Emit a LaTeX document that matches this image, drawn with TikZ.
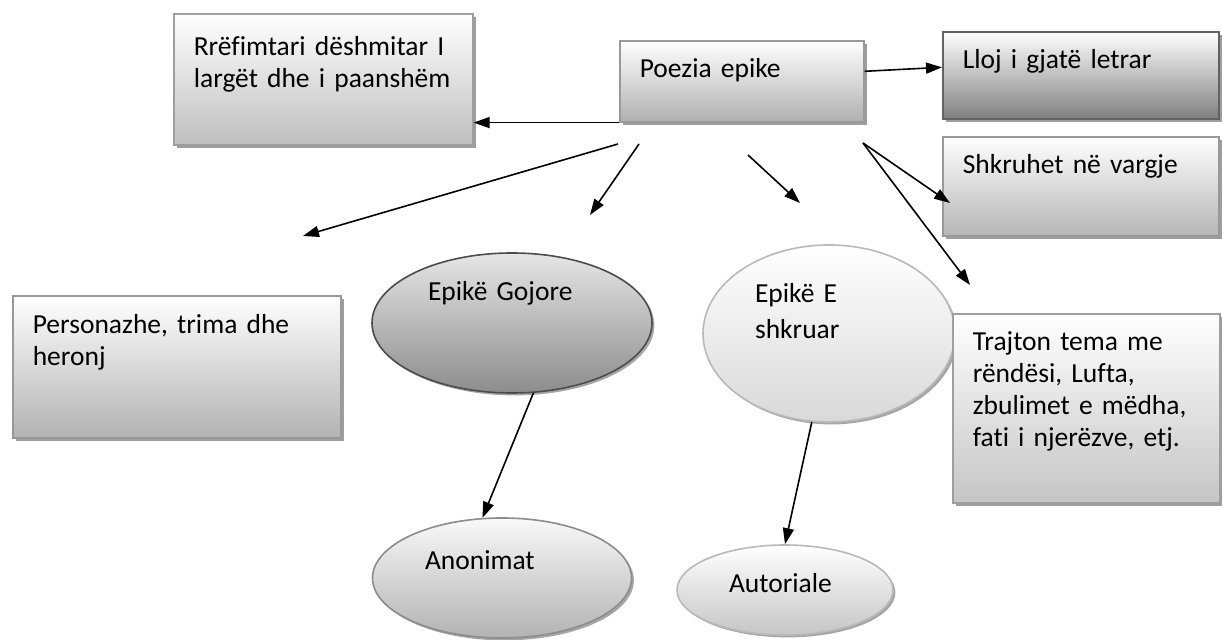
\documentclass[tikz,border=0pt]{standalone}
\usepackage{fontspec}
\setmainfont{Carlito}[WordSpace=0.75, Ligatures=NoCommon]
\usetikzlibrary{shapes.geometric, arrows.meta, shadows}

\begin{document}
\begin{tikzpicture}[x=0.5pt, y=-0.5pt, font=\fontsize{13.75pt}{16pt}\selectfont,
    box/.style={draw, rectangle, line width=0.8pt, anchor=north west, inner xsep=10pt, inner ysep=0pt,
        align=left, text height=18.5pt, top color=white,
        drop shadow={shadow xshift=1.6pt, shadow yshift=-1.6pt, fill=black!38, opacity=1}},
    oval/.style={draw, ellipse, line width=0.8pt, inner sep=0pt, align=left, text height=10pt,
        drop shadow={shadow xshift=1.2pt, shadow yshift=-1.2pt, fill=black!35, opacity=1}},
    link/.style={-{Triangle[length=8pt, width=5.5pt]}, line width=0.8pt}]
    \useasboundingbox (0,0) rectangle (1222,640);

    % kutite
    \node[box, draw=gray!75, bottom color=gray!50, text width=129.5pt, text height=21pt, text depth=44.5pt] (rref) at (173,13) {Rrëfimtari dëshmitar I\\largët dhe i paanshëm};
    \node[box, draw=gray!80, bottom color=gray!62, text width=102pt, text depth=22pt] (poezia) at (619,40) {Poezia epike};
    \node[box, draw=black!62, bottom color=gray, text width=118pt, text depth=25pt] (lloj) at (942,31) {Lloj i gjatë letrar};
    \node[box, draw=gray!80, bottom color=gray!58, text width=118pt, text depth=31pt] (vargje) at (942,136) {Shkruhet në vargje};
    \node[box, draw=gray!80, bottom color=gray!60, text width=144pt, text height=19pt, text depth=52pt] (pers) at (12,295) {Personazhe, trima dhe\\heronj};

    % elipset
    \node[oval, draw=black!70, top color=black!10, bottom color=black!45, minimum width=140pt, minimum height=70pt,
        text width=84pt, text depth=32pt] (gojore) at (512,323) {Epikë Gojore};
    \node[oval, draw=gray!55, top color=white, bottom color=gray!30, minimum width=126pt, minimum height=88.5pt,
        text width=74pt, text depth=40.5pt, font=\fontsize{13.75pt}{18pt}\selectfont] (shkruar) at (829,333.5) {Epikë E\\shkruar};
    \node[oval, draw=gray!90, top color=gray!5, bottom color=gray!60, minimum width=129.5pt, minimum height=60pt,
        text width=77pt, text depth=18pt] (anon) at (502,578) {Anonimat};
    \node[oval, draw=gray!55, top color=white, bottom color=gray!45, minimum width=108pt, minimum height=45pt,
        text width=56pt, text depth=7pt] (autor) at (785,590) {Autoriale};

    \node[box, draw=gray!75, bottom color=gray!45, text width=113.5pt, text height=18.5pt, text depth=76pt] (tema) at (952,313) {Trajton tema me\\rëndësi, Lufta,\\zbulimet e mëdha,\\fati i njerëzve, etj.};

    % shigjetat
    \coordinate (p1) at (618,144);
    \coordinate (p2) at (639,144);
    \coordinate (p3) at (748,155);
    \coordinate (p4) at (863,143);
    \coordinate (q1) at (303,236);
    \coordinate (q2) at (590,215);
    \coordinate (q3) at (800,203);
    \coordinate (q4) at (950,203);
    \coordinate (q5) at (970,285);

    \draw[link] (poezia.south west) -- (poezia.south west -| rref.east);
    \draw[link] ([yshift=5pt]poezia.east) -- ([yshift=4pt]lloj.west);
    \draw[link] (p1) -- (q1);
    \draw[link] (p2) -- (q2);
    \draw[link] (p3) -- (q3);
    \draw[link] (p4) -- (q4);
    \draw[link] (p4) -- (q5);
    \draw[link] (gojore.-73) -- (anon.108);
    \draw[link] (shkruar.-101) -- (autor.north);
\end{tikzpicture}
\end{document}
